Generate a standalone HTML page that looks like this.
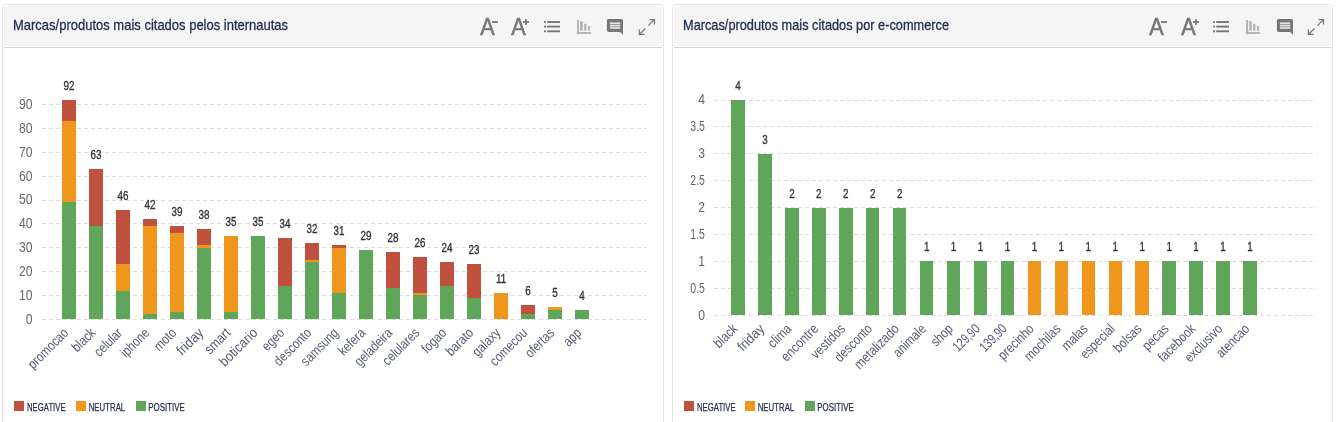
<!DOCTYPE html>
<html lang="pt-BR"><head><meta charset="utf-8"><title>Marcas/produtos mais citados</title>
<style>
html,body{margin:0;padding:0;background:#fff;}
body{width:1337px;height:422px;overflow:hidden;position:relative;font-family:"Liberation Sans",sans-serif;}
.panel{position:absolute;top:4px;height:440px;border:1px solid #e8e8e8;border-radius:3px;background:#fff;box-sizing:content-box;}
.hd{position:absolute;left:1px;right:1px;top:1px;height:40px;background:#f5f5f5;border-radius:1px 1px 0 0;}
.hl{position:absolute;left:1px;right:1px;top:42px;height:1px;background:#d6d6d6;}
.tt{position:absolute;left:9.3px;top:8.7px;font-size:15px;line-height:20px;color:#1f2b4d;-webkit-text-stroke:0.3px #1f2b4d;white-space:nowrap;transform-origin:0 50%;display:inline-block;}
svg.chart{position:absolute;left:0;top:0;font-family:"Liberation Sans",sans-serif;}
</style></head>
<body>
<div class="panel" style="left:2px;width:660px">
<div class="hd"><span class="tt" style="transform:scaleX(0.866)">Marcas/produtos mais citados pelos internautas</span></div>
<div class="hl"></div>
</div>
<div class="panel" style="left:672px;width:659px">
<div class="hd"><span class="tt" style="transform:scaleX(0.851)">Marcas/produtos mais citados por e-commerce</span></div>
<div class="hl"></div>
</div>
<svg class="chart" width="1337" height="422" viewBox="0 0 1337 422">
<g>
<g fill="#777" stroke="none"><g transform="translate(0,0)"><text transform="translate(480.3,34.6) scale(0.93,1)" font-size="23.2" stroke="#777" stroke-width="0.6">A</text><rect x="492" y="21.1" width="6" height="1.8"/></g><g transform="translate(0,0)"><text transform="translate(511.2,34.6) scale(0.93,1)" font-size="23.2" stroke="#777" stroke-width="0.6">A</text><rect x="523" y="21.1" width="6" height="1.8"/><rect x="525.1" y="19.1" width="1.7" height="5.9"/></g><g transform="translate(0,0)"><rect x="544" y="21.05" width="1.9" height="1.9"/><rect x="547.2" y="21.05" width="12.8" height="1.9"/><rect x="544" y="25.65" width="1.9" height="1.9"/><rect x="547.2" y="25.65" width="12.8" height="1.9"/><rect x="544" y="30.35" width="1.9" height="1.9"/><rect x="547.2" y="30.35" width="12.8" height="1.9"/></g><g transform="translate(0,0)" fill="#b4b4b4"><rect x="577.1" y="20.1" width="2" height="14.2"/><rect x="576.7" y="32" width="14.4" height="1.9"/><rect x="580.2" y="21.2" width="2.6" height="9.4"/><rect x="584.1" y="23.8" width="2.3" height="6.8"/><rect x="587.9" y="26.1" width="2.2" height="4.5"/></g><g transform="translate(0,0)"><path d="M608.6 18.9h12.7a1.7 1.7 0 0 1 1.7 1.7v14.2l-2.9-2.8h-11.5a1.7 1.7 0 0 1 -1.7 -1.7v-9.7a1.7 1.7 0 0 1 1.7 -1.7z"/><g fill="#e4e4e4"><rect x="609.9" y="22.4" width="10.3" height="1.7"/><rect x="609.9" y="24.7" width="10.3" height="1.8"/><rect x="609.9" y="27.1" width="10.3" height="1.7"/></g></g><g transform="translate(0,0)" fill="none" stroke="#777" stroke-width="1.3"><path d="M648.4 25.6L654.6 19.4M649.5 19.6H654.5V24.5M645.4 28.5L639.3 34.6M639.4 29.4V34.4H644.6"/></g></g>
<line x1="42" x2="647" y1="319.5" y2="319.5" stroke="#dcdcdc" stroke-width="1" stroke-dasharray="4 3"/>
<line x1="42" x2="647" y1="295.5" y2="295.5" stroke="#dcdcdc" stroke-width="1" stroke-dasharray="4 3"/>
<line x1="42" x2="647" y1="271.5" y2="271.5" stroke="#dcdcdc" stroke-width="1" stroke-dasharray="4 3"/>
<line x1="42" x2="647" y1="247.5" y2="247.5" stroke="#dcdcdc" stroke-width="1" stroke-dasharray="4 3"/>
<line x1="42" x2="647" y1="223.5" y2="223.5" stroke="#dcdcdc" stroke-width="1" stroke-dasharray="4 3"/>
<line x1="42" x2="647" y1="200.5" y2="200.5" stroke="#dcdcdc" stroke-width="1" stroke-dasharray="4 3"/>
<line x1="42" x2="647" y1="176.5" y2="176.5" stroke="#dcdcdc" stroke-width="1" stroke-dasharray="4 3"/>
<line x1="42" x2="647" y1="152.5" y2="152.5" stroke="#dcdcdc" stroke-width="1" stroke-dasharray="4 3"/>
<line x1="42" x2="647" y1="128.5" y2="128.5" stroke="#dcdcdc" stroke-width="1" stroke-dasharray="4 3"/>
<line x1="42" x2="647" y1="104.5" y2="104.5" stroke="#dcdcdc" stroke-width="1" stroke-dasharray="4 3"/>
<text transform="translate(32.6,323.5) scale(0.85,1)" text-anchor="end" font-size="14.3" fill="#666666">0</text>
<text transform="translate(32.6,299.67) scale(0.85,1)" text-anchor="end" font-size="14.3" fill="#666666">10</text>
<text transform="translate(32.6,275.84) scale(0.85,1)" text-anchor="end" font-size="14.3" fill="#666666">20</text>
<text transform="translate(32.6,252.01) scale(0.85,1)" text-anchor="end" font-size="14.3" fill="#666666">30</text>
<text transform="translate(32.6,228.18) scale(0.85,1)" text-anchor="end" font-size="14.3" fill="#666666">40</text>
<text transform="translate(32.6,204.35) scale(0.85,1)" text-anchor="end" font-size="14.3" fill="#666666">50</text>
<text transform="translate(32.6,180.52) scale(0.85,1)" text-anchor="end" font-size="14.3" fill="#666666">60</text>
<text transform="translate(32.6,156.69) scale(0.85,1)" text-anchor="end" font-size="14.3" fill="#666666">70</text>
<text transform="translate(32.6,132.86) scale(0.85,1)" text-anchor="end" font-size="14.3" fill="#666666">80</text>
<text transform="translate(32.6,109.03) scale(0.85,1)" text-anchor="end" font-size="14.3" fill="#666666">90</text>
<rect x="62" y="202" width="14" height="117" fill="#5fa55a"/>
<rect x="62" y="121" width="14" height="81" fill="#ef971c"/>
<rect x="62" y="100" width="14" height="21" fill="#c0513f"/>
<text transform="translate(69,90) scale(0.73,1)" text-anchor="middle" font-size="13.5" fill="#333333" stroke="#333333" stroke-width="0.35">92</text>
<text transform="translate(69.3,333.7) rotate(-45)" text-anchor="end" textLength="51.05" lengthAdjust="spacingAndGlyphs" font-size="14" fill="#555b73">promocao</text>
<rect x="89" y="226" width="14" height="93" fill="#5fa55a"/>
<rect x="89" y="169" width="14" height="57" fill="#c0513f"/>
<text transform="translate(96,159) scale(0.73,1)" text-anchor="middle" font-size="13.5" fill="#333333" stroke="#333333" stroke-width="0.35">63</text>
<text transform="translate(96.3,333.7) rotate(-45)" text-anchor="end" textLength="26.8" lengthAdjust="spacingAndGlyphs" font-size="14" fill="#555b73">black</text>
<rect x="116" y="291" width="14" height="28" fill="#5fa55a"/>
<rect x="116" y="264" width="14" height="27" fill="#ef971c"/>
<rect x="116" y="210" width="14" height="54" fill="#c0513f"/>
<text transform="translate(123,200) scale(0.73,1)" text-anchor="middle" font-size="13.5" fill="#333333" stroke="#333333" stroke-width="0.35">46</text>
<text transform="translate(123.3,333.7) rotate(-45)" text-anchor="end" textLength="33.82" lengthAdjust="spacingAndGlyphs" font-size="14" fill="#555b73">celular</text>
<rect x="143" y="314" width="14" height="5" fill="#5fa55a"/>
<rect x="143" y="226" width="14" height="88" fill="#ef971c"/>
<rect x="143" y="219" width="14" height="7" fill="#c0513f"/>
<text transform="translate(150,209) scale(0.73,1)" text-anchor="middle" font-size="13.5" fill="#333333" stroke="#333333" stroke-width="0.35">42</text>
<text transform="translate(150.3,333.7) rotate(-45)" text-anchor="end" textLength="34.47" lengthAdjust="spacingAndGlyphs" font-size="14" fill="#555b73">iphone</text>
<rect x="170" y="312" width="14" height="7" fill="#5fa55a"/>
<rect x="170" y="233" width="14" height="79" fill="#ef971c"/>
<rect x="170" y="226" width="14" height="7" fill="#c0513f"/>
<text transform="translate(177,216) scale(0.73,1)" text-anchor="middle" font-size="13.5" fill="#333333" stroke="#333333" stroke-width="0.35">39</text>
<text transform="translate(177.3,333.7) rotate(-45)" text-anchor="end" textLength="25.52" lengthAdjust="spacingAndGlyphs" font-size="14" fill="#555b73">moto</text>
<rect x="197" y="248" width="14" height="71" fill="#5fa55a"/>
<rect x="197" y="245" width="14" height="3" fill="#ef971c"/>
<rect x="197" y="229" width="14" height="16" fill="#c0513f"/>
<text transform="translate(204,219) scale(0.73,1)" text-anchor="middle" font-size="13.5" fill="#333333" stroke="#333333" stroke-width="0.35">38</text>
<text transform="translate(204.3,333.7) rotate(-45)" text-anchor="end" textLength="31.57" lengthAdjust="spacingAndGlyphs" font-size="14" fill="#555b73">friday</text>
<rect x="224" y="312" width="14" height="7" fill="#5fa55a"/>
<rect x="224" y="236" width="14" height="76" fill="#ef971c"/>
<text transform="translate(231,226) scale(0.73,1)" text-anchor="middle" font-size="13.5" fill="#333333" stroke="#333333" stroke-width="0.35">35</text>
<text transform="translate(231.3,333.7) rotate(-45)" text-anchor="end" textLength="30.2" lengthAdjust="spacingAndGlyphs" font-size="14" fill="#555b73">smart</text>
<rect x="251" y="236" width="14" height="83" fill="#5fa55a"/>
<text transform="translate(258,226) scale(0.73,1)" text-anchor="middle" font-size="13.5" fill="#333333" stroke="#333333" stroke-width="0.35">35</text>
<text transform="translate(258.3,333.7) rotate(-45)" text-anchor="end" textLength="47.39" lengthAdjust="spacingAndGlyphs" font-size="14" fill="#555b73">boticario</text>
<rect x="278" y="286" width="14" height="33" fill="#5fa55a"/>
<rect x="278" y="238" width="14" height="48" fill="#c0513f"/>
<text transform="translate(285,228) scale(0.73,1)" text-anchor="middle" font-size="13.5" fill="#333333" stroke="#333333" stroke-width="0.35">34</text>
<text transform="translate(285.3,333.7) rotate(-45)" text-anchor="end" textLength="25.54" lengthAdjust="spacingAndGlyphs" font-size="14" fill="#555b73">egeo</text>
<rect x="305" y="262" width="14" height="57" fill="#5fa55a"/>
<rect x="305" y="260" width="14" height="2" fill="#ef971c"/>
<rect x="305" y="243" width="14" height="17" fill="#c0513f"/>
<text transform="translate(312,233) scale(0.73,1)" text-anchor="middle" font-size="13.5" fill="#333333" stroke="#333333" stroke-width="0.35">32</text>
<text transform="translate(312.3,333.7) rotate(-45)" text-anchor="end" textLength="46.59" lengthAdjust="spacingAndGlyphs" font-size="14" fill="#555b73">desconto</text>
<rect x="332" y="293" width="14" height="26" fill="#5fa55a"/>
<rect x="332" y="248" width="14" height="45" fill="#ef971c"/>
<rect x="332" y="245" width="14" height="3" fill="#c0513f"/>
<text transform="translate(339,235) scale(0.73,1)" text-anchor="middle" font-size="13.5" fill="#333333" stroke="#333333" stroke-width="0.35">31</text>
<text transform="translate(339.3,333.7) rotate(-45)" text-anchor="end" textLength="46.58" lengthAdjust="spacingAndGlyphs" font-size="14" fill="#555b73">samsung</text>
<rect x="359" y="250" width="14" height="69" fill="#5fa55a"/>
<text transform="translate(366,240) scale(0.73,1)" text-anchor="middle" font-size="13.5" fill="#333333" stroke="#333333" stroke-width="0.35">29</text>
<text transform="translate(366.3,333.7) rotate(-45)" text-anchor="end" textLength="31.91" lengthAdjust="spacingAndGlyphs" font-size="14" fill="#555b73">kefera</text>
<rect x="386" y="288" width="14" height="31" fill="#5fa55a"/>
<rect x="386" y="252" width="14" height="36" fill="#c0513f"/>
<text transform="translate(393,242) scale(0.73,1)" text-anchor="middle" font-size="13.5" fill="#333333" stroke="#333333" stroke-width="0.35">28</text>
<text transform="translate(393.3,333.7) rotate(-45)" text-anchor="end" textLength="47.23" lengthAdjust="spacingAndGlyphs" font-size="14" fill="#555b73">geladeira</text>
<rect x="413" y="295" width="14" height="24" fill="#5fa55a"/>
<rect x="413" y="293" width="14" height="2" fill="#ef971c"/>
<rect x="413" y="257" width="14" height="36" fill="#c0513f"/>
<text transform="translate(420,247) scale(0.73,1)" text-anchor="middle" font-size="13.5" fill="#333333" stroke="#333333" stroke-width="0.35">26</text>
<text transform="translate(420.3,333.7) rotate(-45)" text-anchor="end" textLength="45.94" lengthAdjust="spacingAndGlyphs" font-size="14" fill="#555b73">celulares</text>
<rect x="440" y="286" width="14" height="33" fill="#5fa55a"/>
<rect x="440" y="262" width="14" height="24" fill="#c0513f"/>
<text transform="translate(447,252) scale(0.73,1)" text-anchor="middle" font-size="13.5" fill="#333333" stroke="#333333" stroke-width="0.35">24</text>
<text transform="translate(447.3,333.7) rotate(-45)" text-anchor="end" textLength="28.73" lengthAdjust="spacingAndGlyphs" font-size="14" fill="#555b73">fogao</text>
<rect x="467" y="298" width="14" height="21" fill="#5fa55a"/>
<rect x="467" y="264" width="14" height="34" fill="#c0513f"/>
<text transform="translate(474,254) scale(0.73,1)" text-anchor="middle" font-size="13.5" fill="#333333" stroke="#333333" stroke-width="0.35">23</text>
<text transform="translate(474.3,333.7) rotate(-45)" text-anchor="end" textLength="32.55" lengthAdjust="spacingAndGlyphs" font-size="14" fill="#555b73">barato</text>
<rect x="494" y="293" width="14" height="26" fill="#ef971c"/>
<text transform="translate(501,283) scale(0.73,1)" text-anchor="middle" font-size="13.5" fill="#333333" stroke="#333333" stroke-width="0.35">11</text>
<text transform="translate(501.3,333.7) rotate(-45)" text-anchor="end" textLength="33.18" lengthAdjust="spacingAndGlyphs" font-size="14" fill="#555b73">galaxy</text>
<rect x="521" y="314" width="14" height="5" fill="#5fa55a"/>
<rect x="521" y="305" width="14" height="9" fill="#c0513f"/>
<text transform="translate(528,295) scale(0.73,1)" text-anchor="middle" font-size="13.5" fill="#333333" stroke="#333333" stroke-width="0.35">6</text>
<text transform="translate(528.3,333.7) rotate(-45)" text-anchor="end" textLength="46.58" lengthAdjust="spacingAndGlyphs" font-size="14" fill="#555b73">comecou</text>
<rect x="548" y="310" width="14" height="9" fill="#5fa55a"/>
<rect x="548" y="307" width="14" height="3" fill="#ef971c"/>
<text transform="translate(555,297) scale(0.73,1)" text-anchor="middle" font-size="13.5" fill="#333333" stroke="#333333" stroke-width="0.35">5</text>
<text transform="translate(555.3,333.7) rotate(-45)" text-anchor="end" textLength="35.09" lengthAdjust="spacingAndGlyphs" font-size="14" fill="#555b73">ofertas</text>
<rect x="575" y="310" width="14" height="9" fill="#5fa55a"/>
<text transform="translate(582,300) scale(0.73,1)" text-anchor="middle" font-size="13.5" fill="#333333" stroke="#333333" stroke-width="0.35">4</text>
<text transform="translate(582.3,333.7) rotate(-45)" text-anchor="end" textLength="19.15" lengthAdjust="spacingAndGlyphs" font-size="14" fill="#555b73">app</text>
<rect x="14" y="401" width="10" height="10" fill="#c0513f"/>
<text x="27.0" y="410.6" textLength="38.6" lengthAdjust="spacingAndGlyphs" font-size="11" fill="#262e4a" stroke="#262e4a" stroke-width="0.25">NEGATIVE</text>
<rect x="76" y="401" width="10" height="10" fill="#ef971c"/>
<text x="88.7" y="410.6" textLength="36.5" lengthAdjust="spacingAndGlyphs" font-size="11" fill="#262e4a" stroke="#262e4a" stroke-width="0.25">NEUTRAL</text>
<rect x="136" y="401" width="10" height="10" fill="#5fa55a"/>
<text x="148.3" y="410.6" textLength="36.5" lengthAdjust="spacingAndGlyphs" font-size="11" fill="#262e4a" stroke="#262e4a" stroke-width="0.25">POSITIVE</text>
</g>
<g>
<g fill="#777" stroke="none"><g transform="translate(669,0)"><text transform="translate(480.3,34.6) scale(0.93,1)" font-size="23.2" stroke="#777" stroke-width="0.6">A</text><rect x="492" y="21.1" width="6" height="1.8"/></g><g transform="translate(670,0)"><text transform="translate(511.2,34.6) scale(0.93,1)" font-size="23.2" stroke="#777" stroke-width="0.6">A</text><rect x="523" y="21.1" width="6" height="1.8"/><rect x="525.1" y="19.1" width="1.7" height="5.9"/></g><g transform="translate(669,0)"><rect x="544" y="21.05" width="1.9" height="1.9"/><rect x="547.2" y="21.05" width="12.8" height="1.9"/><rect x="544" y="25.65" width="1.9" height="1.9"/><rect x="547.2" y="25.65" width="12.8" height="1.9"/><rect x="544" y="30.35" width="1.9" height="1.9"/><rect x="547.2" y="30.35" width="12.8" height="1.9"/></g><g transform="translate(669,0)" fill="#b4b4b4"><rect x="577.1" y="20.1" width="2" height="14.2"/><rect x="576.7" y="32" width="14.4" height="1.9"/><rect x="580.2" y="21.2" width="2.6" height="9.4"/><rect x="584.1" y="23.8" width="2.3" height="6.8"/><rect x="587.9" y="26.1" width="2.2" height="4.5"/></g><g transform="translate(670,0)"><path d="M608.6 18.9h12.7a1.7 1.7 0 0 1 1.7 1.7v14.2l-2.9-2.8h-11.5a1.7 1.7 0 0 1 -1.7 -1.7v-9.7a1.7 1.7 0 0 1 1.7 -1.7z"/><g fill="#e4e4e4"><rect x="609.9" y="22.4" width="10.3" height="1.7"/><rect x="609.9" y="24.7" width="10.3" height="1.8"/><rect x="609.9" y="27.1" width="10.3" height="1.7"/></g></g><g transform="translate(669,0)" fill="none" stroke="#777" stroke-width="1.3"><path d="M648.4 25.6L654.6 19.4M649.5 19.6H654.5V24.5M645.4 28.5L639.3 34.6M639.4 29.4V34.4H644.6"/></g></g>
<line x1="714" x2="1316.6" y1="315.5" y2="315.5" stroke="#dcdcdc" stroke-width="1" stroke-dasharray="4 3"/>
<line x1="714" x2="1316.6" y1="288.5" y2="288.5" stroke="#dcdcdc" stroke-width="1" stroke-dasharray="4 3"/>
<line x1="714" x2="1316.6" y1="261.5" y2="261.5" stroke="#dcdcdc" stroke-width="1" stroke-dasharray="4 3"/>
<line x1="714" x2="1316.6" y1="234.5" y2="234.5" stroke="#dcdcdc" stroke-width="1" stroke-dasharray="4 3"/>
<line x1="714" x2="1316.6" y1="207.5" y2="207.5" stroke="#dcdcdc" stroke-width="1" stroke-dasharray="4 3"/>
<line x1="714" x2="1316.6" y1="180.5" y2="180.5" stroke="#dcdcdc" stroke-width="1" stroke-dasharray="4 3"/>
<line x1="714" x2="1316.6" y1="153.5" y2="153.5" stroke="#dcdcdc" stroke-width="1" stroke-dasharray="4 3"/>
<line x1="714" x2="1316.6" y1="126.5" y2="126.5" stroke="#dcdcdc" stroke-width="1" stroke-dasharray="4 3"/>
<line x1="714" x2="1316.6" y1="100.5" y2="100.5" stroke="#dcdcdc" stroke-width="1" stroke-dasharray="4 3"/>
<text transform="translate(704.9,319.5) scale(0.85,1)" text-anchor="end" font-size="14.3" fill="#666666">0</text>
<text transform="translate(704.9,292.6) scale(0.735,1)" text-anchor="end" font-size="14.3" fill="#666666">0.5</text>
<text transform="translate(704.9,265.7) scale(0.85,1)" text-anchor="end" font-size="14.3" fill="#666666">1</text>
<text transform="translate(704.9,238.8) scale(0.735,1)" text-anchor="end" font-size="14.3" fill="#666666">1.5</text>
<text transform="translate(704.9,211.9) scale(0.85,1)" text-anchor="end" font-size="14.3" fill="#666666">2</text>
<text transform="translate(704.9,185) scale(0.735,1)" text-anchor="end" font-size="14.3" fill="#666666">2.5</text>
<text transform="translate(704.9,158.1) scale(0.85,1)" text-anchor="end" font-size="14.3" fill="#666666">3</text>
<text transform="translate(704.9,131.2) scale(0.735,1)" text-anchor="end" font-size="14.3" fill="#666666">3.5</text>
<text transform="translate(704.9,104.3) scale(0.85,1)" text-anchor="end" font-size="14.3" fill="#666666">4</text>
<rect x="731" y="100" width="14" height="215" fill="#5fa55a"/>
<text transform="translate(738,90) scale(0.73,1)" text-anchor="middle" font-size="13.5" fill="#333333" stroke="#333333" stroke-width="0.35">4</text>
<text transform="translate(738.3,329.7) rotate(-45)" text-anchor="end" textLength="26.8" lengthAdjust="spacingAndGlyphs" font-size="14" fill="#555b73">black</text>
<rect x="758" y="154" width="14" height="161" fill="#5fa55a"/>
<text transform="translate(764.95,144) scale(0.73,1)" text-anchor="middle" font-size="13.5" fill="#333333" stroke="#333333" stroke-width="0.35">3</text>
<text transform="translate(765.25,329.7) rotate(-45)" text-anchor="end" textLength="31.57" lengthAdjust="spacingAndGlyphs" font-size="14" fill="#555b73">friday</text>
<rect x="785" y="208" width="14" height="107" fill="#5fa55a"/>
<text transform="translate(791.89,198) scale(0.73,1)" text-anchor="middle" font-size="13.5" fill="#333333" stroke="#333333" stroke-width="0.35">2</text>
<text transform="translate(792.19,329.7) rotate(-45)" text-anchor="end" textLength="26.79" lengthAdjust="spacingAndGlyphs" font-size="14" fill="#555b73">clima</text>
<rect x="812" y="208" width="14" height="107" fill="#5fa55a"/>
<text transform="translate(818.84,198) scale(0.73,1)" text-anchor="middle" font-size="13.5" fill="#333333" stroke="#333333" stroke-width="0.35">2</text>
<text transform="translate(819.14,329.7) rotate(-45)" text-anchor="end" textLength="46.17" lengthAdjust="spacingAndGlyphs" font-size="14" fill="#555b73">encontre</text>
<rect x="839" y="208" width="14" height="107" fill="#5fa55a"/>
<text transform="translate(845.79,198) scale(0.73,1)" text-anchor="middle" font-size="13.5" fill="#333333" stroke="#333333" stroke-width="0.35">2</text>
<text transform="translate(846.09,329.7) rotate(-45)" text-anchor="end" textLength="42.11" lengthAdjust="spacingAndGlyphs" font-size="14" fill="#555b73">vestidos</text>
<rect x="866" y="208" width="13" height="107" fill="#5fa55a"/>
<text transform="translate(872.74,198) scale(0.73,1)" text-anchor="middle" font-size="13.5" fill="#333333" stroke="#333333" stroke-width="0.35">2</text>
<text transform="translate(873.03,329.7) rotate(-45)" text-anchor="end" textLength="46.59" lengthAdjust="spacingAndGlyphs" font-size="14" fill="#555b73">desconto</text>
<rect x="893" y="208" width="13" height="107" fill="#5fa55a"/>
<text transform="translate(899.68,198) scale(0.73,1)" text-anchor="middle" font-size="13.5" fill="#333333" stroke="#333333" stroke-width="0.35">2</text>
<text transform="translate(899.98,329.7) rotate(-45)" text-anchor="end" textLength="57.02" lengthAdjust="spacingAndGlyphs" font-size="14" fill="#555b73">metalizado</text>
<rect x="920" y="261" width="13" height="54" fill="#5fa55a"/>
<text transform="translate(926.63,251) scale(0.73,1)" text-anchor="middle" font-size="13.5" fill="#333333" stroke="#333333" stroke-width="0.35">1</text>
<text transform="translate(926.93,329.7) rotate(-45)" text-anchor="end" textLength="40.2" lengthAdjust="spacingAndGlyphs" font-size="14" fill="#555b73">animale</text>
<rect x="947" y="261" width="13" height="54" fill="#5fa55a"/>
<text transform="translate(953.58,251) scale(0.73,1)" text-anchor="middle" font-size="13.5" fill="#333333" stroke="#333333" stroke-width="0.35">1</text>
<text transform="translate(953.88,329.7) rotate(-45)" text-anchor="end" textLength="24.89" lengthAdjust="spacingAndGlyphs" font-size="14" fill="#555b73">shop</text>
<rect x="974" y="261" width="13" height="54" fill="#5fa55a"/>
<text transform="translate(980.52,251) scale(0.73,1)" text-anchor="middle" font-size="13.5" fill="#333333" stroke="#333333" stroke-width="0.35">1</text>
<text transform="translate(980.82,329.7) rotate(-45)" text-anchor="end" textLength="31.91" lengthAdjust="spacingAndGlyphs" font-size="14" fill="#555b73">129,90</text>
<rect x="1001" y="261" width="13" height="54" fill="#5fa55a"/>
<text transform="translate(1007.47,251) scale(0.73,1)" text-anchor="middle" font-size="13.5" fill="#333333" stroke="#333333" stroke-width="0.35">1</text>
<text transform="translate(1007.77,329.7) rotate(-45)" text-anchor="end" textLength="32.31" lengthAdjust="spacingAndGlyphs" font-size="14" fill="#555b73">139,90</text>
<rect x="1028" y="261" width="13" height="54" fill="#ef971c"/>
<text transform="translate(1034.42,251) scale(0.73,1)" text-anchor="middle" font-size="13.5" fill="#333333" stroke="#333333" stroke-width="0.35">1</text>
<text transform="translate(1034.72,329.7) rotate(-45)" text-anchor="end" textLength="44.04" lengthAdjust="spacingAndGlyphs" font-size="14" fill="#555b73">precinho</text>
<rect x="1055" y="261" width="13" height="54" fill="#ef971c"/>
<text transform="translate(1061.36,251) scale(0.73,1)" text-anchor="middle" font-size="13.5" fill="#333333" stroke="#333333" stroke-width="0.35">1</text>
<text transform="translate(1061.66,329.7) rotate(-45)" text-anchor="end" textLength="45.3" lengthAdjust="spacingAndGlyphs" font-size="14" fill="#555b73">mochilas</text>
<rect x="1082" y="261" width="13" height="54" fill="#ef971c"/>
<text transform="translate(1088.31,251) scale(0.73,1)" text-anchor="middle" font-size="13.5" fill="#333333" stroke="#333333" stroke-width="0.35">1</text>
<text transform="translate(1088.61,329.7) rotate(-45)" text-anchor="end" textLength="30.62" lengthAdjust="spacingAndGlyphs" font-size="14" fill="#555b73">malas</text>
<rect x="1109" y="261" width="13" height="54" fill="#ef971c"/>
<text transform="translate(1115.26,251) scale(0.73,1)" text-anchor="middle" font-size="13.5" fill="#333333" stroke="#333333" stroke-width="0.35">1</text>
<text transform="translate(1115.56,329.7) rotate(-45)" text-anchor="end" textLength="42.12" lengthAdjust="spacingAndGlyphs" font-size="14" fill="#555b73">especial</text>
<rect x="1135" y="261" width="14" height="54" fill="#ef971c"/>
<text transform="translate(1142.2,251) scale(0.73,1)" text-anchor="middle" font-size="13.5" fill="#333333" stroke="#333333" stroke-width="0.35">1</text>
<text transform="translate(1142.5,329.7) rotate(-45)" text-anchor="end" textLength="33.18" lengthAdjust="spacingAndGlyphs" font-size="14" fill="#555b73">bolsas</text>
<rect x="1162" y="261" width="14" height="54" fill="#5fa55a"/>
<text transform="translate(1169.15,251) scale(0.73,1)" text-anchor="middle" font-size="13.5" fill="#333333" stroke="#333333" stroke-width="0.35">1</text>
<text transform="translate(1169.45,329.7) rotate(-45)" text-anchor="end" textLength="30.63" lengthAdjust="spacingAndGlyphs" font-size="14" fill="#555b73">pecas</text>
<rect x="1189" y="261" width="14" height="54" fill="#5fa55a"/>
<text transform="translate(1196.1,251) scale(0.73,1)" text-anchor="middle" font-size="13.5" fill="#333333" stroke="#333333" stroke-width="0.35">1</text>
<text transform="translate(1196.4,329.7) rotate(-45)" text-anchor="end" textLength="46.59" lengthAdjust="spacingAndGlyphs" font-size="14" fill="#555b73">facebook</text>
<rect x="1216" y="261" width="14" height="54" fill="#5fa55a"/>
<text transform="translate(1223.05,251) scale(0.73,1)" text-anchor="middle" font-size="13.5" fill="#333333" stroke="#333333" stroke-width="0.35">1</text>
<text transform="translate(1223.35,329.7) rotate(-45)" text-anchor="end" textLength="47.22" lengthAdjust="spacingAndGlyphs" font-size="14" fill="#555b73">exclusivo</text>
<rect x="1243" y="261" width="14" height="54" fill="#5fa55a"/>
<text transform="translate(1249.99,251) scale(0.73,1)" text-anchor="middle" font-size="13.5" fill="#333333" stroke="#333333" stroke-width="0.35">1</text>
<text transform="translate(1250.29,329.7) rotate(-45)" text-anchor="end" textLength="40.85" lengthAdjust="spacingAndGlyphs" font-size="14" fill="#555b73">atencao</text>
<rect x="684" y="401" width="10" height="10" fill="#c0513f"/>
<text x="697.0" y="410.6" textLength="38.6" lengthAdjust="spacingAndGlyphs" font-size="11" fill="#262e4a" stroke="#262e4a" stroke-width="0.25">NEGATIVE</text>
<rect x="745" y="401" width="10" height="10" fill="#ef971c"/>
<text x="757.7" y="410.6" textLength="36.5" lengthAdjust="spacingAndGlyphs" font-size="11" fill="#262e4a" stroke="#262e4a" stroke-width="0.25">NEUTRAL</text>
<rect x="805" y="401" width="10" height="10" fill="#5fa55a"/>
<text x="817.3" y="410.6" textLength="36.5" lengthAdjust="spacingAndGlyphs" font-size="11" fill="#262e4a" stroke="#262e4a" stroke-width="0.25">POSITIVE</text>
</g>
</svg>
</body></html>
